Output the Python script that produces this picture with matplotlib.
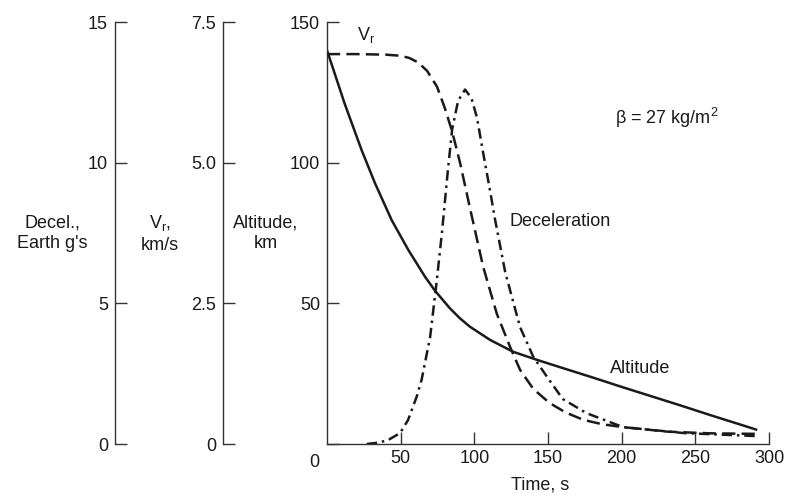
"""Entry trajectory: altitude, velocity and deceleration against time"""

import matplotlib
matplotlib.use("Agg")
import matplotlib.pyplot as plt

plt.rcParams["font.family"] = ["Liberation Sans", "DejaVu Sans"]
plt.rcParams["font.size"] = 13
plt.rcParams["mathtext.fontset"] = "custom"
plt.rcParams["mathtext.rm"] = "Liberation Sans"
plt.rcParams["mathtext.default"] = "regular"
plt.rcParams["lines.scale_dashes"] = False

# altitude, km
alt_t = [0, 12, 23.5, 32.6, 43.9, 55.2, 66.5, 73.3, 83.5, 90, 97, 110.7,
         126.3, 142.6, 160, 180, 200, 220, 240, 260, 280, 292]
alt_km = [140, 121, 104.5, 92.7, 79.6, 69, 59.5, 54.5, 48.2, 44.8, 41.7, 37,
          32.8, 29.9, 27, 23.7, 20.3, 17, 13.7, 10.3, 7, 5]

# relative velocity, km/s
vr_t = [0, 20, 40, 50, 56, 62, 68, 74.7, 80, 85, 90.3, 97, 106, 115.2,
        124.2, 131, 140, 151, 162, 174, 187, 201, 231, 260, 292]
vr_kms = [6.93, 6.93, 6.92, 6.9, 6.86, 6.78, 6.63, 6.35, 5.97, 5.55, 5.0,
          4.2, 3.15, 2.32, 1.73, 1.32, 0.98, 0.73, 0.56, 0.43, 0.35, 0.30,
          0.22, 0.19, 0.18]

# deceleration, Earth g's
dec_t = [27, 35, 41.5, 49.6, 55, 61, 64.3, 70, 74.5, 78, 82, 85, 89, 93.7,
         98, 101.8, 106, 110.7, 114, 121, 131, 140, 149.2, 160, 176, 201,
         242, 292]
dec_g = [0, 0.05, 0.14, 0.39, 0.85, 1.7, 2.3, 3.8, 5.8, 7.5, 9.7, 11.2,
         12.2, 12.6, 12.3, 11.6, 10.35, 9.0, 8.0, 6.1, 4.16, 3.1, 2.4, 1.6,
         1.1, 0.6, 0.39, 0.28]

INK = "#1a1a1a"

fig = plt.figure(figsize=(7.89, 4.96), dpi=100)
ax = fig.add_axes([0.4144, 0.1048, 0.5603, 0.8508])

ax.plot(alt_t, alt_km, color=INK, lw=1.8, solid_capstyle="butt")
ax.set_xlim(0, 300)
ax.set_ylim(0, 150)
ax.set_xticks([50, 100, 150, 200, 250, 300])
ax.set_yticks([0, 50, 100, 150])
ax.set_yticklabels(["", "50", "100", "150"])
ax.spines["top"].set_visible(False)
ax.spines["right"].set_visible(False)
for s in ["left", "bottom"]:
    ax.spines[s].set_color("#333333")
    ax.spines[s].set_linewidth(1.0)
ax.tick_params(direction="in", length=8.5, width=1.0, color="#333333",
               labelcolor=INK)
ax.tick_params(axis="y", pad=5)
ax.tick_params(axis="x", pad=4)
ax.annotate("0", xy=(0, 0), xytext=(-9, -7), textcoords="offset points",
            ha="center", va="top", color=INK)


def side_axis(pos, top, ticks, labels):
    a = ax.twinx()
    a.spines["left"].set_position(("axes", pos))
    a.spines["left"].set_visible(True)
    a.spines["left"].set_color("#333333")
    a.spines["left"].set_linewidth(1.0)
    for s in ["right", "top", "bottom"]:
        a.spines[s].set_visible(False)
    a.yaxis.set_ticks_position("left")
    a.set_ylim(0, top)
    a.set_yticks(ticks)
    a.set_yticklabels(labels)
    a.tick_params(axis="y", direction="in", length=8.5, width=1.0,
                  color="#333333", labelcolor=INK, pad=5)
    return a


ax_v = side_axis(-0.2353, 7.5, [0, 2.5, 5.0, 7.5], ["0", "2.5", "5.0", "7.5"])
ax_g = side_axis(-0.4796, 15, [0, 5, 10, 15], ["0", "5", "10", "15"])

ax_v.plot(vr_t, vr_kms, color=INK, lw=1.8, dashes=(9.5, 4.5))
ax_g.plot(dec_t, dec_g, color=INK, lw=1.8, dashes=(7.5, 3.5, 1.8, 3.5))

# curve labels
ax.text(20.4, 143.6, "V$_r$", color=INK, ha="left", va="baseline")
ax.text(124, 79, "Deceleration", color=INK, ha="left", va="center")
ax.text(192, 27, "Altitude", color=INK, ha="left", va="center")
ax.text(195.5, 116, "β = 27 kg/m$^2$", color=INK, ha="left", va="center")

# axis titles
fig.text(0.066, 0.53, "Decel.,\nEarth g's", ha="center", va="center",
         linespacing=1.3, color=INK)
fig.text(0.203, 0.53, "V$_r$,\nkm/s", ha="center", va="center",
         linespacing=1.3, color=INK)
fig.text(0.337, 0.53, "Altitude,\nkm", ha="center", va="center",
         linespacing=1.3, color=INK)
fig.text(0.685, 0.022, "Time, s", ha="center", va="center", color=INK)

fig.savefig("out.png", dpi=100)
